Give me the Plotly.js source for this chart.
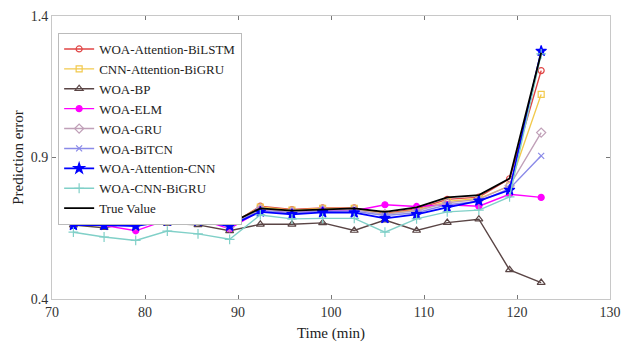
<!DOCTYPE html>
<html>
<head>
<meta charset="utf-8">
<script src="https://cdn.plot.ly/plotly-3.0.1.min.js"></script>
<style>html,body{margin:0;padding:0;background:#fff;}#chart{width:622px;height:347px;}</style>
</head>
<body>
<div id="chart"></div>
<script>
const timeMin = [72.3, 75.6, 79.0, 82.4, 85.7, 89.1, 92.4, 95.8, 99.1, 102.5, 105.8, 109.2, 112.5, 115.9, 119.2, 122.6];

const woaAttBiLSTM = [0.675, 0.672, 0.665, 0.695, 0.697, 0.660, 0.728, 0.716, 0.722, 0.722, 0.702, 0.718, 0.752, 0.760, 0.825, 1.207];
const cnnAttBiGRU  = [0.672, 0.668, 0.662, 0.690, 0.694, 0.662, 0.725, 0.714, 0.720, 0.720, 0.700, 0.715, 0.745, 0.755, 0.800, 1.123];
const woaBP        = [0.661, 0.652, 0.672, 0.667, 0.662, 0.641, 0.664, 0.664, 0.669, 0.642, 0.679, 0.642, 0.670, 0.682, 0.503, 0.458];
const woaELM       = [0.668, 0.660, 0.641, 0.680, 0.683, 0.648, 0.712, 0.705, 0.712, 0.712, 0.733, 0.727, 0.733, 0.728, 0.770, 0.759];
const woaGRU       = [0.675, 0.670, 0.660, 0.688, 0.690, 0.655, 0.718, 0.708, 0.715, 0.715, 0.700, 0.712, 0.740, 0.752, 0.800, 0.988];
const woaBiTCN     = [0.670, 0.665, 0.662, 0.685, 0.686, 0.660, 0.712, 0.705, 0.710, 0.710, 0.695, 0.705, 0.733, 0.745, 0.790, 0.906];
const woaAttCNN    = [0.661, 0.661, 0.658, 0.676, 0.676, 0.658, 0.708, 0.699, 0.706, 0.705, 0.685, 0.699, 0.724, 0.747, 0.785, 1.276];
const woaCNNBiGRU  = [0.636, 0.619, 0.607, 0.640, 0.630, 0.611, 0.697, 0.683, 0.685, 0.685, 0.636, 0.683, 0.708, 0.714, 0.761, 1.266];
const trueValue    = [0.682, 0.677, 0.670, 0.691, 0.693, 0.667, 0.720, 0.712, 0.717, 0.720, 0.708, 0.724, 0.759, 0.767, 0.826, 1.270];

const seriesNames = ["WOA-Attention-BiLSTM","CNN-Attention-BiGRU","WOA-BP","WOA-ELM","WOA-GRU","WOA-BiTCN","WOA-Attention-CNN","WOA-CNN-BiGRU","True Value"];

function tr(name, y, color, symbol, lw, msize) {
  const t = {x: timeMin, y: y, name: name, type: 'scatter',
    mode: symbol ? 'lines+markers' : 'lines',
    line: {color: color, width: lw}};
  if (symbol) t.marker = {symbol: symbol, size: msize, color: color, line: {color: color, width: 1.2}};
  return t;
}

const data = [
  tr(seriesNames[0], woaAttBiLSTM, '#e04545', 'circle-open', 1.4, 6),
  tr(seriesNames[1], cnnAttBiGRU, '#f2c94c', 'square-open', 1.4, 6),
  tr(seriesNames[2], woaBP, '#5a4545', 'triangle-up-open', 1.4, 7),
  tr(seriesNames[3], woaELM, '#ff00ff', 'circle', 1.4, 6),
  tr(seriesNames[4], woaGRU, '#c0a0b8', 'diamond-open', 1.4, 7),
  tr(seriesNames[5], woaBiTCN, '#8a8ae8', 'x-thin', 1.4, 6),
  tr(seriesNames[6], woaAttCNN, '#0000ff', 'star', 1.8, 8),
  tr(seriesNames[7], woaCNNBiGRU, '#80d0c8', 'cross-thin', 1.4, 7),
  tr(seriesNames[8], trueValue, '#000000', null, 1.8, 0)
];

const serif = '"Liberation Serif", "Times New Roman", serif';
const tickFont = {family: serif, size: 14, color: '#333'};
const titleFont = {family: serif, size: 15, color: '#222'};

const layout = {
  width: 622, height: 347,
  margin: {l: 52, r: 12, t: 16, b: 48},
  paper_bgcolor: '#fff', plot_bgcolor: '#fff',
  font: tickFont,
  showlegend: true,
  legend: {x: 0.011, y: 0.94, xanchor: 'left', yanchor: 'top',
    bgcolor: '#fff', bordercolor: '#bbb', borderwidth: 1,
    font: {family: serif, size: 13, color: '#222'},
    itemwidth: 30, tracegroupgap: 0},
  xaxis: {range: [70, 130], tickvals: [70, 80, 90, 100, 110, 120, 130],
    showgrid: false, zeroline: false, showline: true, mirror: 'ticks',
    linecolor: '#c8c8c8', linewidth: 1, ticks: 'inside', ticklen: 4, tickcolor: '#777',
    tickfont: tickFont,
    title: {text: 'Time (min)', font: titleFont, standoff: 8}},
  yaxis: {range: [0.4, 1.4], tickvals: [0.4, 0.9, 1.4], ticktext: ['0.4','0.9','1.4'],
    showgrid: false, zeroline: false, showline: true, mirror: 'ticks',
    linecolor: '#c8c8c8', linewidth: 1, ticks: 'inside', ticklen: 4, tickcolor: '#777',
    tickfont: tickFont,
    title: {text: 'Prediction error', font: titleFont, standoff: 3}}
};

Plotly.newPlot('chart', data, layout, {displayModeBar: false, staticPlot: true});
</script>
</body>
</html>
